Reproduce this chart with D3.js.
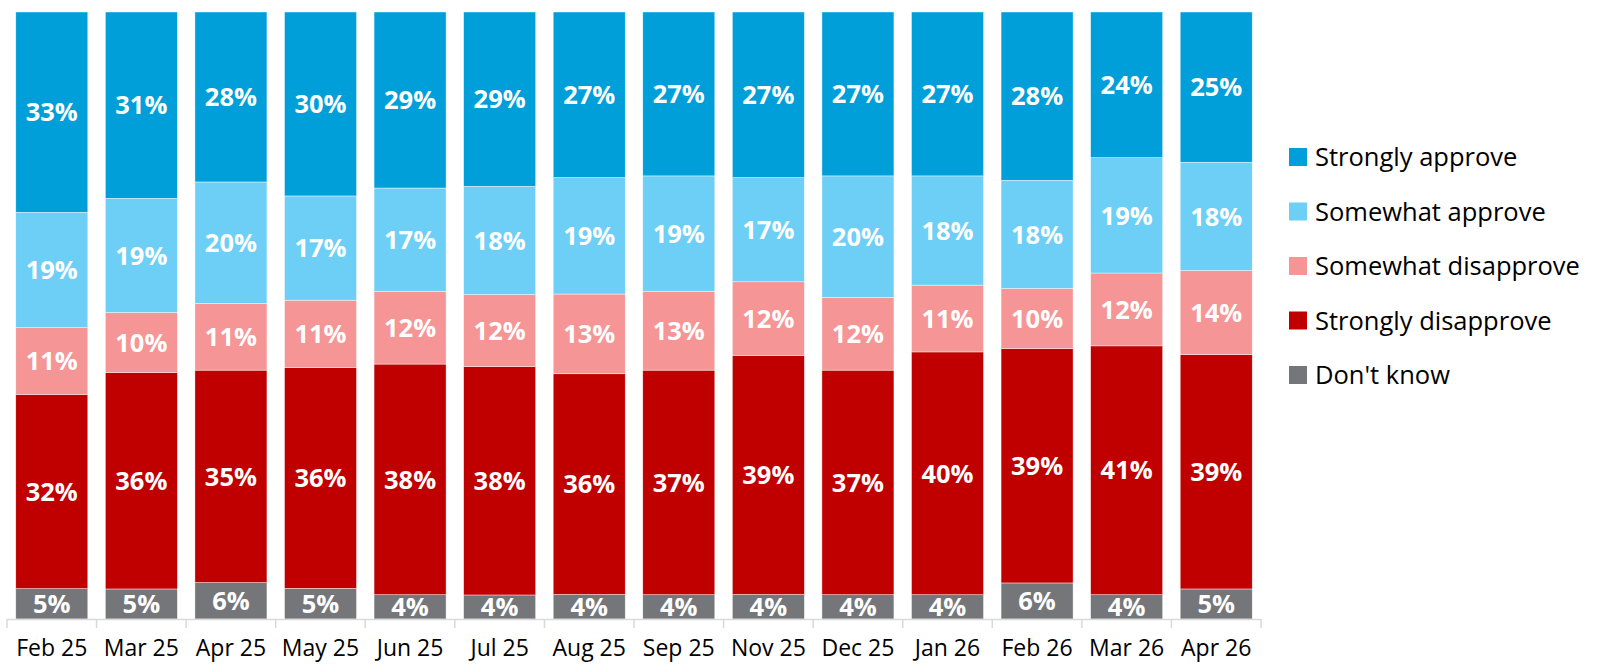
<!DOCTYPE html>
<html>
<head>
<meta charset="utf-8">
<script src="https://cdn.jsdelivr.net/npm/d3@7"></script>
<style>
  body { margin: 0; background: #fff; }
  svg { display: block; font-family: "Open Sans", "Noto Sans", sans-serif; }
</style>
</head>
<body>
<svg></svg>
<script>
var months = ["Feb 25", "Mar 25", "Apr 25", "May 25", "Jun 25", "Jul 25", "Aug 25",
  "Sep 25", "Nov 25", "Dec 25", "Jan 26", "Feb 26", "Mar 26", "Apr 26"];
var dontKnow = [5, 5, 6, 5, 4, 4, 4, 4, 4, 4, 4, 6, 4, 5];
var stronglyDisapprove = [32, 36, 35, 36, 38, 38, 36, 37, 39, 37, 40, 39, 41, 39];
var somewhatDisapprove = [11, 10, 11, 11, 12, 12, 13, 13, 12, 12, 11, 10, 12, 14];
var somewhatApprove = [19, 19, 20, 17, 17, 18, 19, 19, 17, 20, 18, 18, 19, 18];
var stronglyApprove = [33, 31, 28, 30, 29, 29, 27, 27, 27, 27, 27, 28, 24, 25];

// bottom to top order in the stack
var seriesNames = ["Don't know", "Strongly disapprove", "Somewhat disapprove", "Somewhat approve", "Strongly approve"];
var seriesValues = [dontKnow, stronglyDisapprove, somewhatDisapprove, somewhatApprove, stronglyApprove];
var colors = ["#75767a", "#c00000", "#f59595", "#6dcff6", "#009fda"];

var width = 1610, height = 664;
var svg = d3.select("svg").attr("width", width).attr("height", height);

// rows for d3.stack
var rows = months.map(function(m, i) {
  var r = { month: m };
  seriesNames.forEach(function(s, j) { r[s] = seriesValues[j][i]; });
  return r;
});

var stack = d3.stack().keys(seriesNames).offset(d3.stackOffsetExpand);
var layers = stack(rows);

var x = d3.scaleBand().domain(months).range([7, 1261]).paddingInner(0.196).paddingOuter(0.098);
var y = d3.scaleLinear().domain([0, 1]).range([619, 12]);

var layer = svg.append("g").selectAll("g")
  .data(layers)
  .enter().append("g")
  .attr("fill", function(d, i) { return colors[i]; });

layer.selectAll("rect")
  .data(function(d) { return d; })
  .enter().append("rect")
  .attr("x", function(d) { return x(d.data.month); })
  .attr("width", x.bandwidth())
  .attr("y", function(d) { return y(d[1]); })
  .attr("height", function(d) { return y(d[0]) - y(d[1]); })
  .attr("stroke", "#fff")
  .attr("stroke-width", 0.6)
  .attr("stroke-opacity", 0.7);

// data labels
layers.forEach(function(l, i) {
  svg.append("g").selectAll("text")
    .data(l)
    .enter().append("text")
    .attr("x", function(d) { return x(d.data.month) + x.bandwidth() / 2; })
    .attr("y", function(d) { return (y(d[0]) + y(d[1])) / 2; })
    .attr("dy", "0.36em")
    .attr("text-anchor", "middle")
    .attr("fill", "#fff")
    .attr("font-weight", "bold")
    .attr("font-size", 25.5)
    .text(function(d) { return d.data[l.key] + "%"; });
});

// x axis with ticks between categories
var axis = svg.append("g");
axis.append("line")
  .attr("x1", 7).attr("x2", 1261)
  .attr("y1", 619.5).attr("y2", 619.5)
  .attr("stroke", "#d9d9d9").attr("stroke-width", 1.5);
var edges = months.map(function(m) { return x(m) - x.step() * x.paddingInner() / 2; });
edges.push(1261);
axis.selectAll("line.tick")
  .data(edges)
  .enter().append("line")
  .attr("class", "tick")
  .attr("x1", function(d) { return d; }).attr("x2", function(d) { return d; })
  .attr("y1", 619).attr("y2", 628)
  .attr("stroke", "#d9d9d9").attr("stroke-width", 1.5);
axis.selectAll("text")
  .data(months)
  .enter().append("text")
  .attr("x", function(d) { return x(d) + x.bandwidth() / 2; })
  .attr("y", 656)
  .attr("text-anchor", "middle")
  .attr("font-size", 23)
  .attr("fill", "#000")
  .text(function(d) { return d; });

// legend, top to bottom
var legendItems = seriesNames.slice().reverse();
var legendColors = colors.slice().reverse();
var legend = svg.append("g").attr("transform", "translate(1289,157)");
var item = legend.selectAll("g")
  .data(legendItems)
  .enter().append("g")
  .attr("transform", function(d, i) { return "translate(0," + (i * 54.5) + ")"; });
item.append("rect")
  .attr("x", 0).attr("y", -9)
  .attr("width", 18).attr("height", 18)
  .attr("fill", function(d, i) { return legendColors[i]; });
item.append("text")
  .attr("x", 26).attr("y", 0)
  .attr("dy", "0.36em")
  .attr("font-size", 25.5)
  .attr("fill", "#000")
  .text(function(d) { return d; });
</script>
</body>
</html>
